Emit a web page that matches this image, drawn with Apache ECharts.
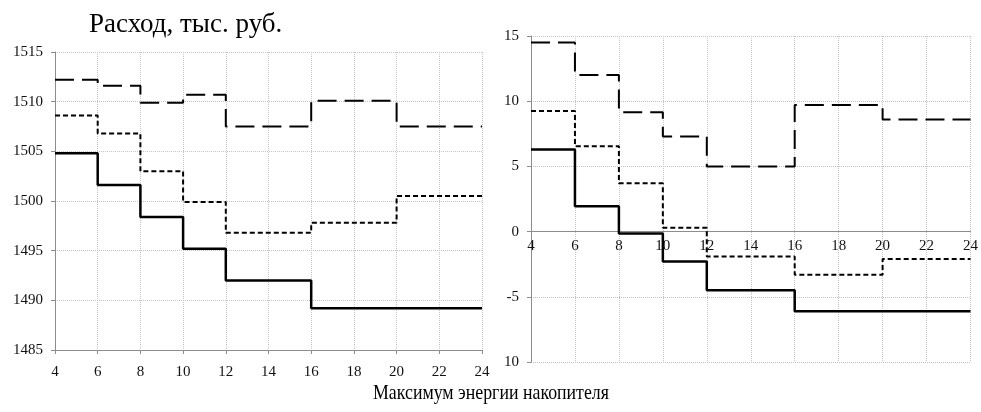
<!DOCTYPE html>
<html>
<head>
<meta charset="utf-8">
<script src="https://cdn.jsdelivr.net/npm/echarts@6/dist/echarts.min.js"></script>
<style>
  html, body { margin: 0; padding: 0; background: #fff; }
  #chart { width: 981px; height: 412px; }
</style>
</head>
<body>
<div id="chart"></div>
<script>
// Breakpoints of storage energy limit (step changes happen at these values)
const steps = [4, 6, 8, 10, 12, 16, 20, 24];

// Left panel: total cost, thousand rubles (value holds until next breakpoint)
const costSolid      = [1504.8, 1501.6, 1498.4, 1495.2, 1492.0, 1489.2, 1489.2, 1489.2];
const costShortDash  = [1508.6, 1506.8, 1503.0, 1499.9, 1496.8, 1497.8, 1500.5, 1500.5];
const costLongDash   = [1512.2, 1511.6, 1509.9, 1510.7, 1507.5, 1510.1, 1507.5, 1507.5];

// Right panel: deviation values
const devSolid       = [6.3, 1.95, -0.15, -2.3, -4.5, -6.1, -6.1, -6.1];
const devShortDash   = [9.25, 6.55, 3.7, 0.3, -1.9, -3.3, -2.1, -2.1];
const devLongDash    = [14.5, 12.0, 9.15, 7.3, 5.0, 9.7, 8.6, 8.6];

// Tick labels of the right value axis, bottom to top
const rightYTicks = ['10', '-5', '0', '5', '10', '15'];

const titleText = 'Расход, тыс. руб.';
const xTitleText = 'Максимум энергии накопителя';

const serif = 'Liberation Serif';
const gridLine = { show: true, lineStyle: { color: '#c4c4c4', type: [1, 1], width: 1 } };
const axisLineGray = { show: true, onZero: false, lineStyle: { color: '#8c8c8c', width: 1 } };
const tickLabel = { fontFamily: serif, fontSize: 15, color: '#111' };

// Right panel geometry: the x axis is drawn across the zero level
const rightGrid = { left: 531, top: 36, width: 443, height: 326 };
const rightYMin = -10, rightYMax = 15;
const rightXOffset = -rightGrid.height * (0 - rightYMin) / (rightYMax - rightYMin);

function pairs(values) {
  return steps.map((x, i) => [x, values[i]]);
}

const solidStyle = { color: '#000', width: 2.5, type: 'solid' };
const shortStyle = { color: '#000', width: 2, type: [5, 3] };
const longStyle  = { color: '#000', width: 2, type: [19, 8] };

function stepSeries(values, style, idx) {
  return {
    type: 'line',
    step: 'end',
    xAxisIndex: idx,
    yAxisIndex: idx,
    data: pairs(values),
    symbol: 'none',
    lineStyle: style,
    animation: false,
    z: 3
  };
}

const chart = echarts.init(document.getElementById('chart'), null, { renderer: 'canvas' });

chart.setOption({
  backgroundColor: '#fff',
  animation: false,
  title: {
    text: titleText,
    left: 84, top: 6,
    textStyle: { fontFamily: serif, fontSize: 27, fontWeight: 'normal', color: '#000' }
  },
  graphic: [
    {
      type: 'text',
      x: 373, y: 382,
      scaleX: 0.81,
      style: {
        text: xTitleText,
        font: '22px "Liberation Serif"',
        fill: '#000',
        textAlign: 'left',
        textVerticalAlign: 'top'
      }
    }
  ],
  grid: [
    { left: 55, top: 52, width: 427, height: 298 },
    rightGrid
  ],
  xAxis: [
    {
      type: 'value', gridIndex: 0, min: 4, max: 24, interval: 2,
      axisLine: axisLineGray,
      axisTick: { show: true, length: 4, lineStyle: { color: '#8c8c8c' } },
      axisLabel: Object.assign({ margin: 15 }, tickLabel),
      splitLine: gridLine
    },
    {
      type: 'value', gridIndex: 1, min: 4, max: 24, interval: 2,
      offset: rightXOffset,
      axisLine: axisLineGray,
      axisTick: { show: false },
      axisLabel: Object.assign({ margin: 7 }, tickLabel),
      splitLine: gridLine
    }
  ],
  yAxis: [
    {
      type: 'value', gridIndex: 0, min: 1485, max: 1515, interval: 5,
      axisLine: axisLineGray,
      axisTick: { show: true, length: 4, lineStyle: { color: '#8c8c8c' } },
      axisLabel: Object.assign({ margin: 12, formatter: (v) => String(v) }, tickLabel),
      splitLine: gridLine
    },
    {
      type: 'value', gridIndex: 1, min: rightYMin, max: rightYMax, interval: 5,
      axisLine: axisLineGray,
      axisTick: { show: true, length: 4, lineStyle: { color: '#8c8c8c' } },
      axisLabel: Object.assign({
        margin: 12,
        formatter: (v) => rightYTicks[Math.round((v - rightYMin) / 5)]
      }, tickLabel),
      splitLine: gridLine
    }
  ],
  series: [
    stepSeries(costLongDash, longStyle, 0),
    stepSeries(costShortDash, shortStyle, 0),
    stepSeries(costSolid, solidStyle, 0),
    stepSeries(devLongDash, longStyle, 1),
    stepSeries(devShortDash, shortStyle, 1),
    stepSeries(devSolid, solidStyle, 1)
  ]
});
</script>
</body>
</html>
